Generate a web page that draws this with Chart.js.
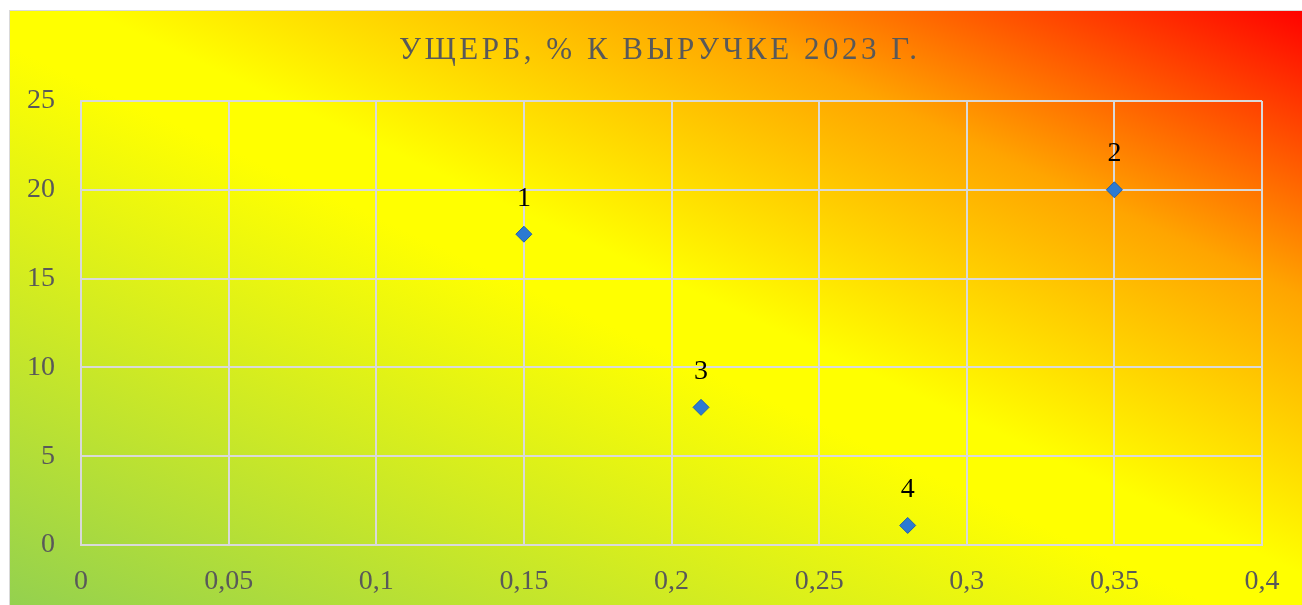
<!DOCTYPE html>
<html>
<head>
<meta charset="utf-8">
<script src="https://cdn.jsdelivr.net/npm/chart.js@4/dist/chart.umd.min.js"></script>
<style>
  html, body { margin: 0; padding: 0; background: #ffffff; overflow: hidden; }
  #bg {
    position: absolute; left: 9px; top: 10px; width: 1300px; height: 603px;
    border: 1px solid #d9d9d9;
    background: linear-gradient(to top right, #92D050 0%, #FFFF00 47%, #FFFF00 53%, #FFA500 76%, #FF0000 100%);
  }
  #wrap { position: absolute; left: 0; top: 0; width: 1302px; height: 605px; }
</style>
</head>
<body>
<div id="bg"></div>
<div id="wrap"><canvas id="c" width="1302" height="605"></canvas></div>
<script>
const chartTitle = "УЩЕРБ, % К ВЫРУЧКЕ 2023 Г.";
const pointLabels = ["1", "2", "3", "4"];
const xValues = [0.15, 0.35, 0.21, 0.28];
const yValues = [17.5, 20, 7.75, 1.1];
const xTicks = [0, 0.05, 0.1, 0.15, 0.2, 0.25, 0.3, 0.35, 0.4];
const yTicks = [0, 5, 10, 15, 20, 25];

const points = xValues.map((x, i) => ({ x: x, y: yValues[i] }));
const fmt = v => String(v).replace('.', ',');
const serif = "'Liberation Serif', 'Times New Roman', serif";
const gridColor = '#d9d9d9';

const titlePlugin = {
  id: 'titleDraw',
  afterDraw(chart) {
    const ctx = chart.ctx;
    ctx.save();
    ctx.font = '31px ' + serif;
    ctx.fillStyle = '#595959';
    ctx.textBaseline = 'middle';
    ctx.letterSpacing = '3.5px';
    const w = ctx.measureText(chartTitle).width - 3.5;
    ctx.textAlign = 'left';
    ctx.fillText(chartTitle, 658 - w / 2, 51);
    ctx.restore();
  }
};

const labelPlugin = {
  id: 'pointLabels',
  afterDatasetsDraw(chart) {
    const ctx = chart.ctx;
    const meta = chart.getDatasetMeta(0);
    ctx.save();
    ctx.font = '28px ' + serif;
    ctx.fillStyle = '#000000';
    ctx.textAlign = 'center';
    ctx.textBaseline = 'middle';
    meta.data.forEach((el, i) => {
      ctx.fillText(pointLabels[i], el.x, el.y - 36);
    });
    ctx.restore();
  }
};

new Chart(document.getElementById('c'), {
  type: 'scatter',
  data: {
    datasets: [{
      data: points,
      pointStyle: 'rectRot',
      pointRadius: 8,
      pointHoverRadius: 8,
      backgroundColor: '#2C7AD2',
      borderColor: '#1F5FAE',
      borderWidth: 1
    }]
  },
  options: {
    responsive: false,
    animation: false,
    events: [],
    layout: { padding: { top: 101, right: 40, left: 0, bottom: 0 } },
    plugins: { legend: { display: false }, title: { display: false }, tooltip: { enabled: false } },
    scales: {
      x: {
        type: 'linear',
        min: 0, max: 0.4,
        afterBuildTicks(axis) { axis.ticks = xTicks.map(v => ({ value: v })); },
        afterFit(axis) { axis.height = 60; },
        grid: { color: gridColor, lineWidth: 2, drawTicks: false },
        border: { color: gridColor, width: 2 },
        ticks: {
          padding: 20,
          color: '#595959',
          font: { family: serif, size: 28 },
          callback: v => fmt(v),
          maxRotation: 0, autoSkip: false
        }
      },
      y: {
        type: 'linear',
        min: 0, max: 25,
        afterBuildTicks(axis) { axis.ticks = yTicks.map(v => ({ value: v })); },
        afterFit(axis) { axis.width = 81; },
        grid: { color: gridColor, lineWidth: 2, drawTicks: false },
        border: { color: gridColor, width: 2 },
        ticks: {
          padding: 26,
          color: '#595959',
          font: { family: serif, size: 28 },
          callback: v => fmt(v)
        }
      }
    }
  },
  plugins: [titlePlugin, labelPlugin]
});
</script>
</body>
</html>
